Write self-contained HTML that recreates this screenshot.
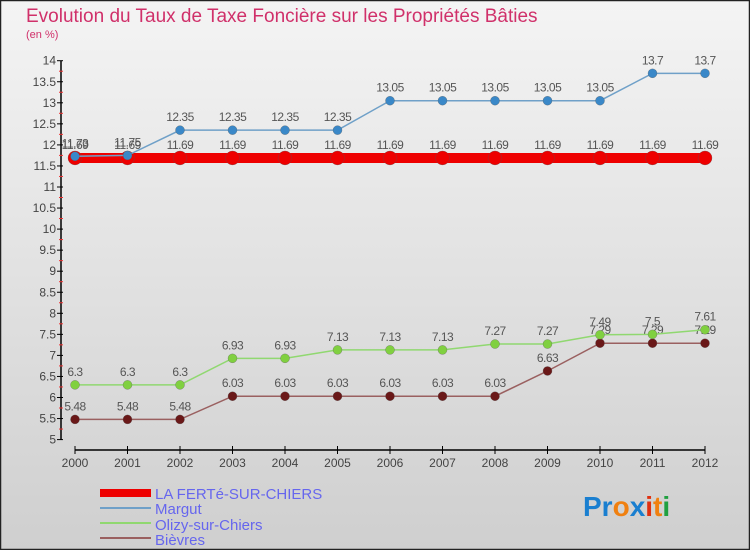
<!DOCTYPE html>
<html><head><meta charset="utf-8">
<style>
body{margin:0;width:750px;height:550px;overflow:hidden;font-family:"Liberation Sans",sans-serif;}
svg{display:block}
</style></head>
<body>
<svg id="chart" width="750" height="550" xmlns="http://www.w3.org/2000/svg">
<defs>
<linearGradient id="bg" x1="0" y1="0" x2="0" y2="1">
<stop offset="0" stop-color="#f4f4f4"/><stop offset="1" stop-color="#cfcfcf"/>
</linearGradient>
</defs>
<rect x="0.5" y="0.5" width="749" height="549" fill="url(#bg)" stroke="#222" stroke-width="1.5"/>
<text x="26" y="22" font-size="19" fill="#d0306a">Evolution du Taux de Taxe Foncière sur les Propriétés Bâties</text>
<text x="26" y="38" font-size="11" fill="#d0306a">(en %)</text>
<g id="axes"></g>
<g id="series"></g>
<g id="legend">
<rect x="100" y="489" width="51" height="8" fill="#e00"/>
<text x="155" y="499" font-size="15" fill="#6666ee">LA FERTé-SUR-CHIERS</text>
<line x1="100" y1="508" x2="151" y2="508" stroke="#6fa0c8" stroke-width="2"/>
<text x="155" y="514" font-size="15" fill="#6666ee">Margut</text>
<line x1="100" y1="523" x2="151" y2="523" stroke="#90d870" stroke-width="2"/>
<text x="155" y="530" font-size="15" fill="#6666ee">Olizy-sur-Chiers</text>
<line x1="100" y1="538" x2="151" y2="538" stroke="#9a6060" stroke-width="2"/>
<text x="155" y="545" font-size="15" fill="#6666ee">Bièvres</text>
</g>
<g font-size="28" font-weight="bold" font-family="'Liberation Sans',sans-serif">
<text x="583" y="516"><tspan fill="#1a7fd0">Pr</tspan><tspan fill="#f08010">o</tspan><tspan fill="#1a7fd0">x</tspan><tspan fill="#e03010">i</tspan><tspan fill="#f08010">t</tspan><tspan fill="#20a040">i</tspan></text>
</g>
</svg>
<script>
const years=[2000,2001,2002,2003,2004,2005,2006,2007,2008,2009,2010,2011,2012];
const yTicks=[5,5.5,6,6.5,7,7.5,8,8.5,9,9.5,10,10.5,11,11.5,12,12.5,13,13.5,14];
const laFerte=[11.69,11.69,11.69,11.69,11.69,11.69,11.69,11.69,11.69,11.69,11.69,11.69,11.69];
const margut=[11.73,11.75,12.35,12.35,12.35,12.35,13.05,13.05,13.05,13.05,13.05,13.7,13.7];
const olizy=[6.3,6.3,6.3,6.93,6.93,7.13,7.13,7.13,7.27,7.27,7.49,7.5,7.61];
const bievres=[5.48,5.48,5.48,6.03,6.03,6.03,6.03,6.03,6.03,6.63,7.29,7.29,7.29];
const NS="http://www.w3.org/2000/svg";
const xs=i=>75+i*52.5;
const ys=v=>60.7+(14-v)*42.1;
function mk(tag,attrs,parent){const e=document.createElementNS(NS,tag);for(const k in attrs)e.setAttribute(k,attrs[k]);parent.appendChild(e);return e;}
const axes=document.getElementById('axes'), ser=document.getElementById('series');
let yAxis=mk('line',{x1:61,y1:ys(14),x2:61,y2:ys(5),stroke:'#000','stroke-width':1.5},axes);


yTicks.forEach((v,k)=>{
  mk('line',{x1:57,y1:ys(v),x2:63,y2:ys(v),stroke:'#000'},axes);
  if(k>0) mk('line',{x1:59,y1:ys(v)+10.5,x2:63,y2:ys(v)+10.5,stroke:'#e33'},axes);
  const t=mk('text',{x:56,y:ys(v)+4,'font-size':12,'text-anchor':'end',fill:'#444'},axes);
  t.textContent=String(v);
  
  
});
let xAxis=mk('line',{x1:xs(0),y1:450,x2:xs(years.length-1),y2:450,stroke:'#000','stroke-width':1.5},axes);


years.forEach((y,i)=>{
  mk('line',{x1:xs(i),y1:446,x2:xs(i),y2:454,stroke:'#000'},axes);
  const t=mk('text',{x:xs(i),y:467,'font-size':12,'text-anchor':'middle',fill:'#444'},axes);
  t.textContent=y;
  
  
});
function series(name,data,color,width,r,fill){
  const g=mk('g',{},ser);
  
  
  const pl=mk('polyline',{points:data.map((v,i)=>xs(i)+','+ys(v)).join(' '),fill:'none',stroke:color,'stroke-width':width},g);
  
  
  data.forEach((v,i)=>{
    const c=mk('circle',{cx:xs(i),cy:ys(v),r:r,fill:fill,stroke:'#555','stroke-width':0.3},g);
    
    
    const t=mk('text',{x:xs(i),y:ys(v)-9,'font-size':12,'text-anchor':'middle',fill:'#555','letter-spacing':'-0.5'},g);
    t.textContent=String(v);
    
    
  });
}
series('bievres',bievres,'#9a6060',1.5,4.5,'#6a1818');
series('olizy',olizy,'#90d870',1.5,4.5,'#80d040');
series('la-ferte',laFerte,'#ee0000',10,7,'#ee0000');
series('margut',margut,'#6fa0c8',1.5,4.5,'#3a88c8');
</script>
</body></html>
